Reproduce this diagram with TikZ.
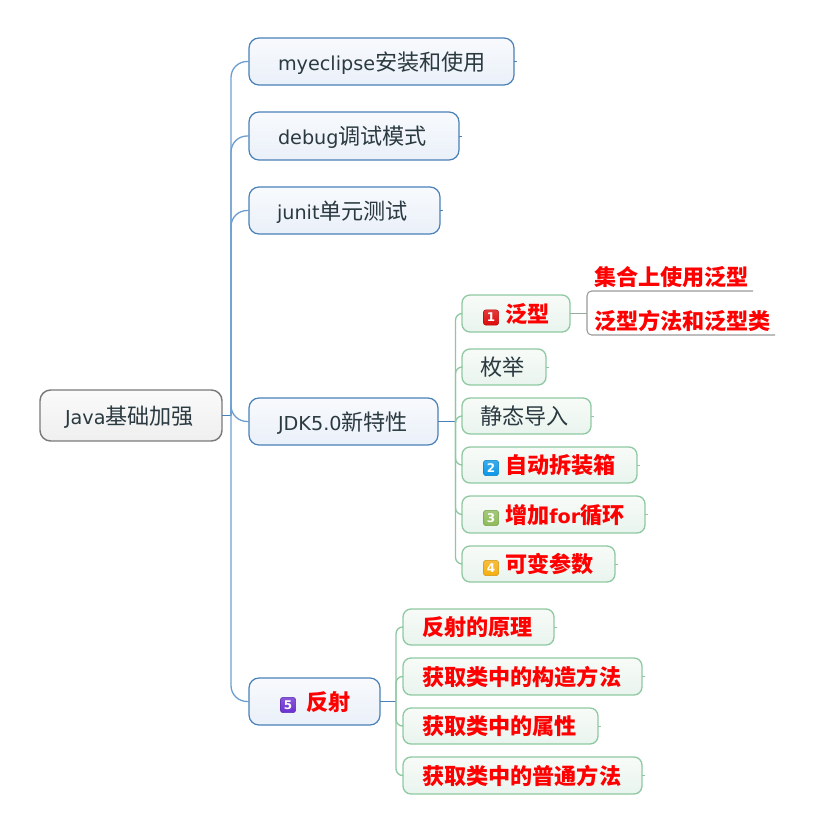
\documentclass[tikz,border=0pt]{standalone}
\usepackage{fontspec}
\setmainfont{DejaVu Sans}
\newfontfamily\cjkf{Noto Sans CJK SC}
\newcommand{\cj}[1]{{\cjkf\fontsize{16.6pt}{18pt}\selectfont #1}}
\newcommand{\cjb}[1]{{\cjkf\bfseries\fontsize{16.6pt}{18pt}\selectfont\color{redtext}#1}}
\definecolor{redtext}{HTML}{FF0000}
\definecolor{darktext}{HTML}{2A3A40}
\definecolor{blueedge}{HTML}{4A80B8}
\definecolor{blueline}{HTML}{6E9FD0}
\definecolor{greenedge}{HTML}{8FC9A2}
\definecolor{greenline}{HTML}{8CC8A0}
\definecolor{greyedge}{HTML}{7A7A7A}
\definecolor{bluetop}{HTML}{F8FAFD}
\definecolor{bluebot}{HTML}{EAF0F9}
\definecolor{greentop}{HTML}{F8FBF8}
\definecolor{greenbot}{HTML}{E9F4EE}
\definecolor{greytop}{HTML}{FAFAFA}
\definecolor{greybot}{HTML}{EFEFEF}
\tikzset{
  px/.style={x=0.75pt,y=-0.75pt},
  basebox/.style={inner sep=0pt,outer sep=0pt,text=darktext,font=\fontsize{14.4pt}{18pt}\selectfont,align=left,rounded corners=7.5pt},
  bluebox/.style={basebox,draw=blueedge,line width=0.9pt,top color=bluetop,bottom color=bluebot},
  greenbox/.style={basebox,draw=greenedge,line width=1pt,top color=greentop,bottom color=greenbot,rounded corners=6pt},
  rootbox/.style={basebox,draw=greyedge,line width=1.1pt,top color=greytop,bottom color=greybot,rounded corners=8pt},
  leafbox/.style={inner sep=0pt,outer sep=0pt,align=left,text height=14pt,text depth=2pt},
  blueconn/.style={draw=blueline,line width=1pt,rounded corners=12pt},
  greenconn/.style={draw=greenline,line width=1pt,rounded corners=5pt},
  tailblue/.style={draw=blueedge,line width=0.6pt},
  tailgreen/.style={draw=greenedge,line width=0.6pt},
  greyconn/.style={draw=black!40,line width=0.8pt,rounded corners=3.5pt},
  iconmark/.style={inner sep=0pt,outer sep=0pt,minimum size=11.5pt,rounded corners=2pt,text=white,font=\bfseries\fontsize{9pt}{9pt}\selectfont,draw=#1!85!black,line width=0.4pt,top color=#1!80!white,bottom color=#1}
}
\definecolor{ic1}{HTML}{DC0A0A}
\definecolor{ic2}{HTML}{0A98E8}
\definecolor{ic3}{HTML}{8DBB58}
\definecolor{ic4}{HTML}{F6AE10}
\definecolor{ic5}{HTML}{6A2FD0}
% name, x1, y1, x2, y2, style, left padding, text
\newcommand{\mmbox}[8]{%
  \pgfmathsetmacro{\mmw}{(#4-#2)*0.75}%
  \pgfmathsetmacro{\mmh}{(#5-#3)*0.75}%
  \pgfmathsetmacro{\mmt}{(#4-#2-2*#7)*0.75}%
  \node[text height=14.7pt,text depth=1.3pt,#6,minimum width=\mmw pt,minimum height=\mmh pt,text width=\mmt pt] (#1) at ({(#2+#4)/2},{(#3+#5)/2}) {#8};%
}
\begin{document}
\begin{tikzpicture}[px]
\useasboundingbox (0,0) rectangle (813,832);
\mmbox{root}{40}{390}{222}{441}{rootbox}{25}{\hbox to 0pt{Java\cj{基础加强}\hss}}
\mmbox{a}{249}{38}{514}{85}{bluebox}{29}{\hbox to 0pt{myeclipse\cj{安装和使用}\hss}}
\mmbox{b}{249}{112}{459}{160}{bluebox}{29}{\hbox to 0pt{debug\cj{调试模式}\hss}}
\mmbox{c}{249}{187}{440}{234}{bluebox}{28}{\hbox to 0pt{junit\cj{单元测试}\hss}}
\mmbox{d}{249}{398}{438}{445}{bluebox}{29}{\hbox to 0pt{JDK5.0\cj{新特性}\hss}}
\mmbox{e}{249}{678}{380}{725}{bluebox}{57}{\hbox to 0pt{\cjb{反射}\hss}}
\mmbox{g1}{462}{295}{570}{332}{greenbox}{43}{\hbox to 0pt{\cjb{泛型}\hss}}
\mmbox{g2}{462}{349}{546}{385}{greenbox}{18}{\hbox to 0pt{\cj{枚举}\hss}}
\mmbox{g3}{462}{398}{591}{434}{greenbox}{18}{\hbox to 0pt{\cj{静态导入}\hss}}
\mmbox{g4}{462}{447}{637}{483}{greenbox}{43}{\hbox to 0pt{\cjb{自动拆装箱}\hss}}
\mmbox{g5}{462}{496}{645}{533}{greenbox}{43}{\hbox to 0pt{\cjb{增加}{\color{redtext}\bfseries for}\cjb{循环}\hss}}
\mmbox{g6}{462}{546}{615}{582}{greenbox}{43}{\hbox to 0pt{\cjb{可变参数}\hss}}
\mmbox{r1}{403}{609}{554}{645}{greenbox}{19}{\hbox to 0pt{\cjb{反射的原理}\hss}}
\mmbox{r2}{403}{658}{642}{695}{greenbox}{19}{\hbox to 0pt{\cjb{获取类中的构造方法}\hss}}
\mmbox{r3}{403}{708}{598}{744}{greenbox}{19}{\hbox to 0pt{\cjb{获取类中的属性}\hss}}
\mmbox{r4}{403}{757}{642}{794}{greenbox}{19}{\hbox to 0pt{\cjb{获取类中的普通方法}\hss}}
\mmbox{l1}{587}{264}{753}{291}{leafbox}{7}{\hbox to 0pt{\cjb{集合上使用泛型}\hss}}
\mmbox{l2}{587}{308}{775}{335}{leafbox}{7}{\hbox to 0pt{\cjb{泛型方法和泛型类}\hss}}
% icons
\node[iconmark=ic1] (i1) at (491,317.5) {1};
\node[iconmark=ic2] (i2) at (491,468) {2};
\node[iconmark=ic3] (i3) at (491,518) {3};
\node[iconmark=ic4] (i4) at (491,568) {4};
\node[iconmark=ic5] (i5) at (288,705) {5};
% junction points
\coordinate (tr) at (231,415.5);
\coordinate (gt) at (455.5,421.5);
\coordinate (rt) at (396,701.5);
\coordinate (br) at (587,313.5);
% main trunk
\draw[draw=blueedge,line width=1.2pt] (root.east) -- (tr);
\foreach \n in {a,b,c,d,e} \draw[blueconn] (tr) |- (\n.west);
% tails
\foreach \n in {a,b,c} \draw[tailblue] (\n.east) -- ++(3,0);
\draw[draw=blueedge,line width=0.7pt] (d.east) -- (gt);
\draw[draw=blueedge,line width=0.7pt] (e.east) -- (rt);
\foreach \n in {g1,g2,g3,g4,g5,g6} \draw[greenconn] (gt) |- (\n.west);
\foreach \n in {r1,r2,r3,r4} \draw[greenconn] (rt) |- (\n.west);
\foreach \n in {g2,g3,g4,g5,g6,r1,r2,r3,r4} \draw[tailgreen] (\n.east) -- ++(3,0);
\draw[draw=greenedge!70!black!70,line width=0.7pt] (g1.east) -- (br);
\draw[greyconn] (br) |- (l1.south east);
\draw[greyconn] (br) |- (l2.south east);
\end{tikzpicture}
\end{document}
